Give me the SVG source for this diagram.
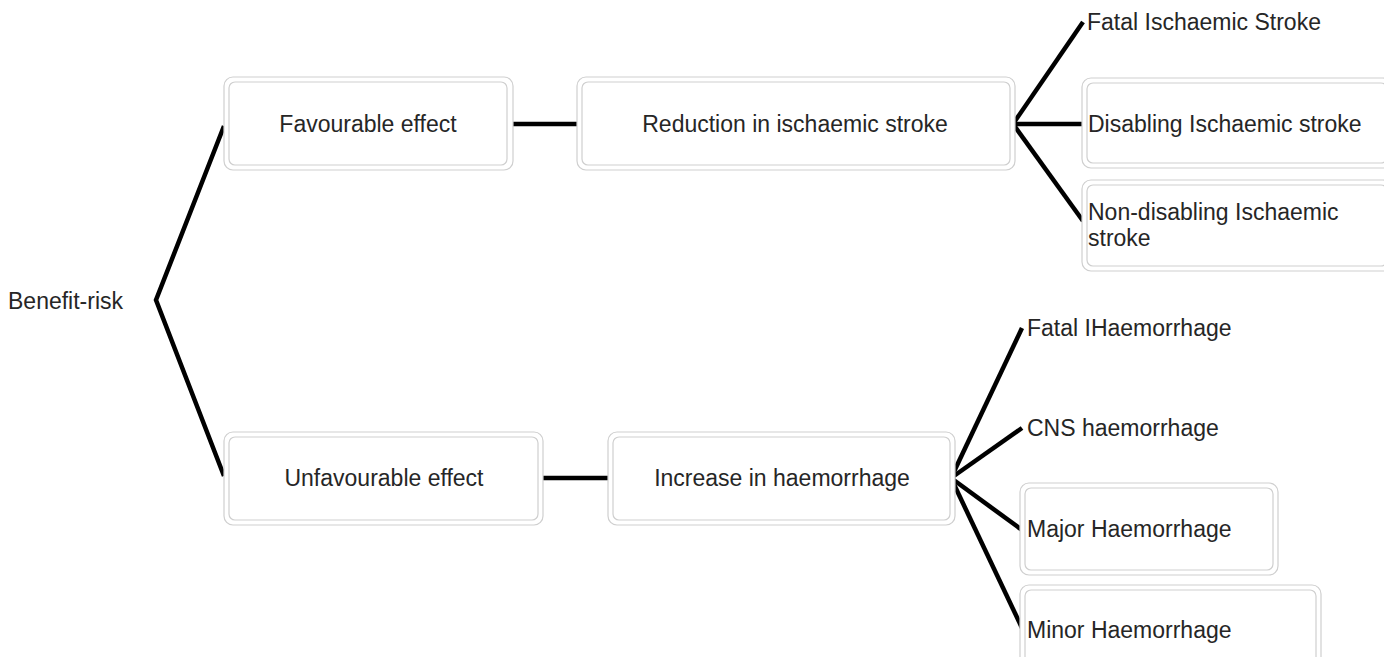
<svg xmlns="http://www.w3.org/2000/svg" width="1384" height="657" viewBox="0 0 1384 657">
<style>
.o{fill:#fff;stroke:#cfcfcf;stroke-width:1.2}
.i{fill:none;stroke:#cfcfcf;stroke-width:1.2}
text{font-family:"Liberation Sans",Arial,sans-serif;font-size:23px;fill:#262626;dominant-baseline:central}
.c{text-anchor:middle}
.ln{stroke:#000;stroke-width:4.5;fill:none;stroke-linejoin:miter}
</style>
<rect width="1384" height="657" fill="#fff"/>
<g id="connectors">
<polyline class="ln" points="224,126 156,300 224,476"/>
<line class="ln" x1="512" y1="124" x2="577" y2="124"/>
<line class="ln" x1="543" y1="478" x2="608" y2="478"/>
<line class="ln" x1="1013" y1="124" x2="1083" y2="22"/>
<line class="ln" x1="1013" y1="124" x2="1083" y2="124"/>
<line class="ln" x1="1013" y1="124" x2="1083" y2="221"/>
<line class="ln" x1="951" y1="478" x2="1022" y2="328"/>
<line class="ln" x1="951" y1="478" x2="1022" y2="428"/>
<line class="ln" x1="951" y1="478" x2="1022" y2="530"/>
<line class="ln" x1="951" y1="478" x2="1022" y2="628"/>
</g>
<g id="benefit-risk"><text x="8" y="301">Benefit-risk</text></g>
<g id="favourable">
<rect class="o" x="224" y="77" width="289" height="93" rx="9"/>
<rect class="i" x="229" y="82" width="278" height="83" rx="6"/>
<text class="c" x="368" y="124">Favourable effect</text>
</g>
<g id="reduction">
<rect class="o" x="577" y="77" width="438" height="93" rx="9"/>
<rect class="i" x="582" y="82" width="428" height="83" rx="6"/>
<text class="c" x="795" y="124">Reduction in ischaemic stroke</text>
</g>
<g id="unfavourable">
<rect class="o" x="224" y="432" width="319" height="93" rx="9"/>
<rect class="i" x="229" y="437" width="309" height="83" rx="6"/>
<text class="c" x="384" y="478">Unfavourable effect</text>
</g>
<g id="increase">
<rect class="o" x="608" y="432" width="347" height="93" rx="9"/>
<rect class="i" x="613" y="437" width="337" height="83" rx="6"/>
<text class="c" x="782" y="478">Increase in haemorrhage</text>
</g>
<g id="fatal-stroke"><text x="1087" y="22">Fatal Ischaemic Stroke</text></g>
<g id="disabling">
<rect class="o" x="1082" y="78" width="310" height="90" rx="9"/>
<rect class="i" x="1087" y="83" width="300" height="80" rx="6"/>
<text x="1088" y="124">Disabling Ischaemic stroke</text>
</g>
<g id="non-disabling">
<rect class="o" x="1082" y="180" width="310" height="91" rx="9"/>
<rect class="i" x="1087" y="185" width="300" height="81" rx="6"/>
<text x="1088" y="212">Non-disabling Ischaemic</text>
<text x="1088" y="238">stroke</text>
</g>
<g id="fatal-haemorrhage"><text x="1027" y="328">Fatal IHaemorrhage</text></g>
<g id="cns"><text x="1027" y="428">CNS haemorrhage</text></g>
<g id="major">
<rect class="o" x="1020" y="483" width="258" height="92" rx="9"/>
<rect class="i" x="1025" y="488" width="248" height="82" rx="6"/>
<text x="1027" y="529">Major Haemorrhage</text>
</g>
<g id="minor">
<rect class="o" x="1020" y="585" width="301" height="92" rx="9"/>
<rect class="i" x="1025" y="590" width="291" height="82" rx="6"/>
<text x="1027" y="630">Minor Haemorrhage</text>
</g>
</svg>
